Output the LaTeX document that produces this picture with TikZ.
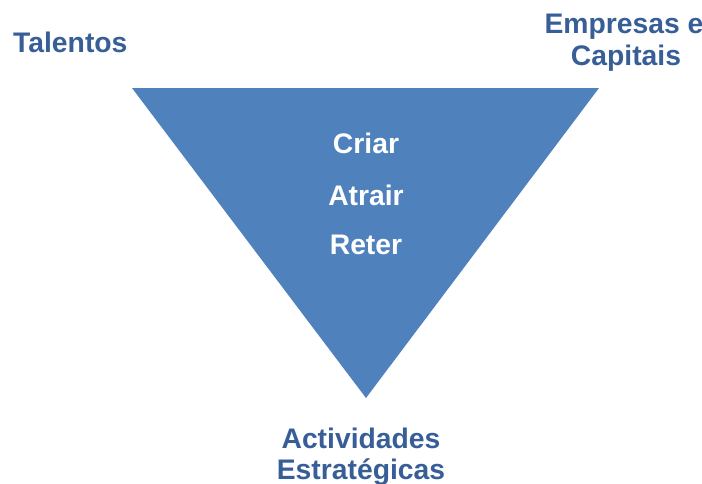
\documentclass[tikz,border=0pt]{standalone}
\usepackage{fontspec}
\setmainfont{Liberation Sans}
\definecolor{tri}{RGB}{79,129,189}
\definecolor{lbl}{RGB}{55,94,151}
\begin{document}
\begin{tikzpicture}[x=1pt,y=-1pt,
  outer/.style={text=lbl,font=\fontsize{28.3}{32}\selectfont\bfseries,inner sep=0pt,anchor=base},
  inner/.style={text=white,font=\fontsize{28.3}{32}\selectfont\bfseries,inner sep=0pt,anchor=base}]
\useasboundingbox (0,0) rectangle (702,483);
\coordinate (tl) at (132,88);
\coordinate (tr) at (599,88);
\coordinate (bt) at (366,398);
\fill[tri] (tl) -- (tr) -- (bt) -- cycle;
\node[inner] (criar) at (366,153) {Criar};
\node[inner] (atrair) at (366,205) {Atrair};
\node[inner] (reter) at (366,254) {Reter};
\node[outer,anchor=base west] (talentos) at (13,52) {Talentos};
\node[outer] (emp1) at (624,33) {Empresas e};
\node[outer] (emp2) at (626,65) {Capitais};
\node[outer] (act1) at (361,448) {Actividades};
\node[outer] (act2) at (361,479) {Estratégicas};
\end{tikzpicture}
\end{document}
